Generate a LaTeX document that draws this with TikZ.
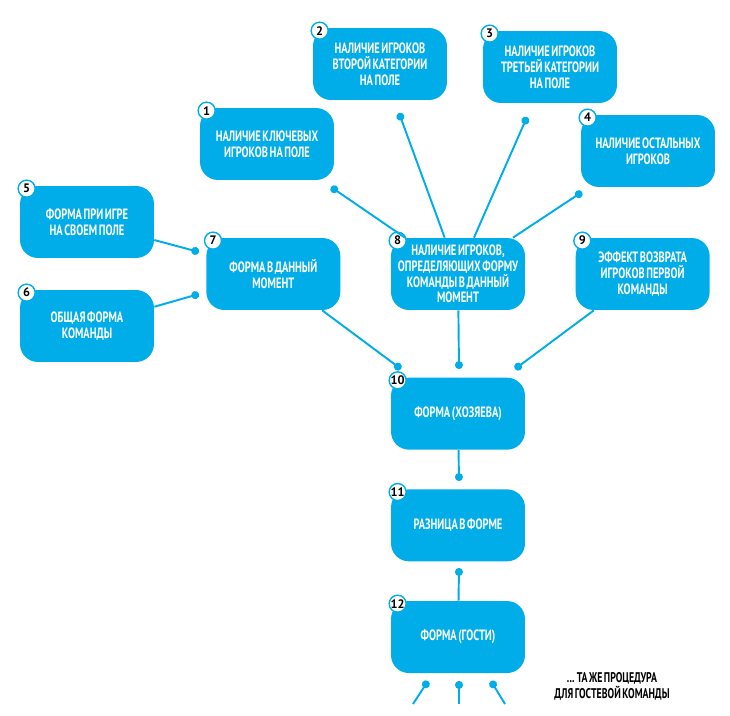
\documentclass[tikz,border=0pt]{standalone}
\usepackage{fontspec}
\setmainfont{PT Sans}[FakeStretch=0.7, WordSpace=0.6]
\newfontfamily\numfont{PT Sans}
\usetikzlibrary{positioning, arrows.meta}
\definecolor{boxblue}{HTML}{00ADE8}

\begin{document}
\begin{tikzpicture}[
        x=0.02cm, y=-0.02cm,
        node distance=1cm,
        factor/.style={rectangle, fill=boxblue, text=white, minimum width=2.68cm, minimum height=1.44cm, rounded corners=0.36cm, align=center, font=\bfseries\fontsize{8.5}{9}\selectfont},
        badge/.style={circle, draw=boxblue, line width=0.8pt, fill=white, inner sep=0pt, minimum size=0.34cm, font=\numfont\bfseries\fontsize{7}{7}\selectfont},
        link/.style={draw=boxblue, line width=1.1pt, {Circle[length=4.5pt]}-},
        note/.style={align=center, font=\bfseries\fontsize{8}{9}\selectfont}
    ]
        \useasboundingbox (0,0) rectangle (730,716);

        % factors
        \node[factor] (n1) at (267,144) {НАЛИЧИЕ КЛЮЧЕВЫХ\\ИГРОКОВ НА ПОЛЕ};
        \node[factor] (n2) at (380,64) {НАЛИЧИЕ ИГРОКОВ\\ВТОРОЙ КАТЕГОРИИ\\НА ПОЛЕ};
        \node[factor] (n3) at (550,67) {НАЛИЧИЕ ИГРОКОВ\\ТРЕТЬЕЙ КАТЕГОРИИ\\НА ПОЛЕ};
        \node[factor] (n4) at (648,151) {НАЛИЧИЕ ОСТАЛЬНЫХ\\ИГРОКОВ};
        \node[factor] (n5) at (87,222) {ФОРМА ПРИ ИГРЕ\\НА СВОЕМ ПОЛЕ};
        \node[factor] (n6) at (87,326) {ОБЩАЯ ФОРМА\\КОМАНДЫ};

        \node[factor] (n8) at (458,274) {НАЛИЧИЕ ИГРОКОВ,\\ОПРЕДЕЛЯЮЩИХ ФОРМУ\\КОМАНДЫ В ДАННЫЙ\\МОМЕНТ};
        \node[factor, left=of n8] (n7) {ФОРМА В ДАННЫЙ\\МОМЕНТ};
        \node[factor, right=of n8] (n9) {ЭФФЕКТ ВОЗВРАТА\\ИГРОКОВ ПЕРВОЙ\\КОМАНДЫ};

        \node[factor, below=1.34cm of n8] (n10) {ФОРМА (ХОЗЯЕВА)};
        \node[factor, below=0.78cm of n10] (n11) {РАЗНИЦА В ФОРМЕ};
        \node[factor, below=0.78cm of n11] (n12) {ФОРМА (ГОСТИ)};

        \foreach \i in {1,...,12}
            \node[badge] (b\i) at ([shift={(7,3)}]n\i.north west) {\i};

        % dot ends
        \coordinate (d1) at (331,187);
        \coordinate (d2) at (399,113);
        \coordinate (d3) at (527,117);
        \coordinate (d4) at (582,192);
        \coordinate (d5) at (199,252);
        \coordinate (d6) at (199,294);
        \coordinate (d7) at (401,369);
        \coordinate (d8) at (459,369);
        \coordinate (d9) at (515,369);
        \coordinate (d10) at (459,481);
        \coordinate (d11) at (459,568);
        \coordinate (g1) at (428,681);
        \coordinate (g2) at (459,681);
        \coordinate (g3) at (491,681);
        \coordinate (e1) at (413,704);
        \coordinate (e2) at (459,704);
        \coordinate (e3) at (505,704);

        \foreach \i in {1,2,3,4}
            \draw[link] (d\i) -- (n8);
        \draw[link] (d5) -- (n5);
        \draw[link] (d6) -- (n6);
        \draw[link] (d7) -- (n7);
        \draw[link] (d8) -- (n8);
        \draw[link] (d9) -- (n9);
        \draw[link] (d10) -- (n10);
        \draw[link] (d11) -- (n12);
        \foreach \i in {1,2,3}
            \draw[link] (g\i) -- (e\i);

        \node[note] (more) at (612,686) {... ТА ЖЕ ПРОЦЕДУРА\\ДЛЯ ГОСТЕВОЙ КОМАНДЫ};
    \end{tikzpicture}
\end{document}
